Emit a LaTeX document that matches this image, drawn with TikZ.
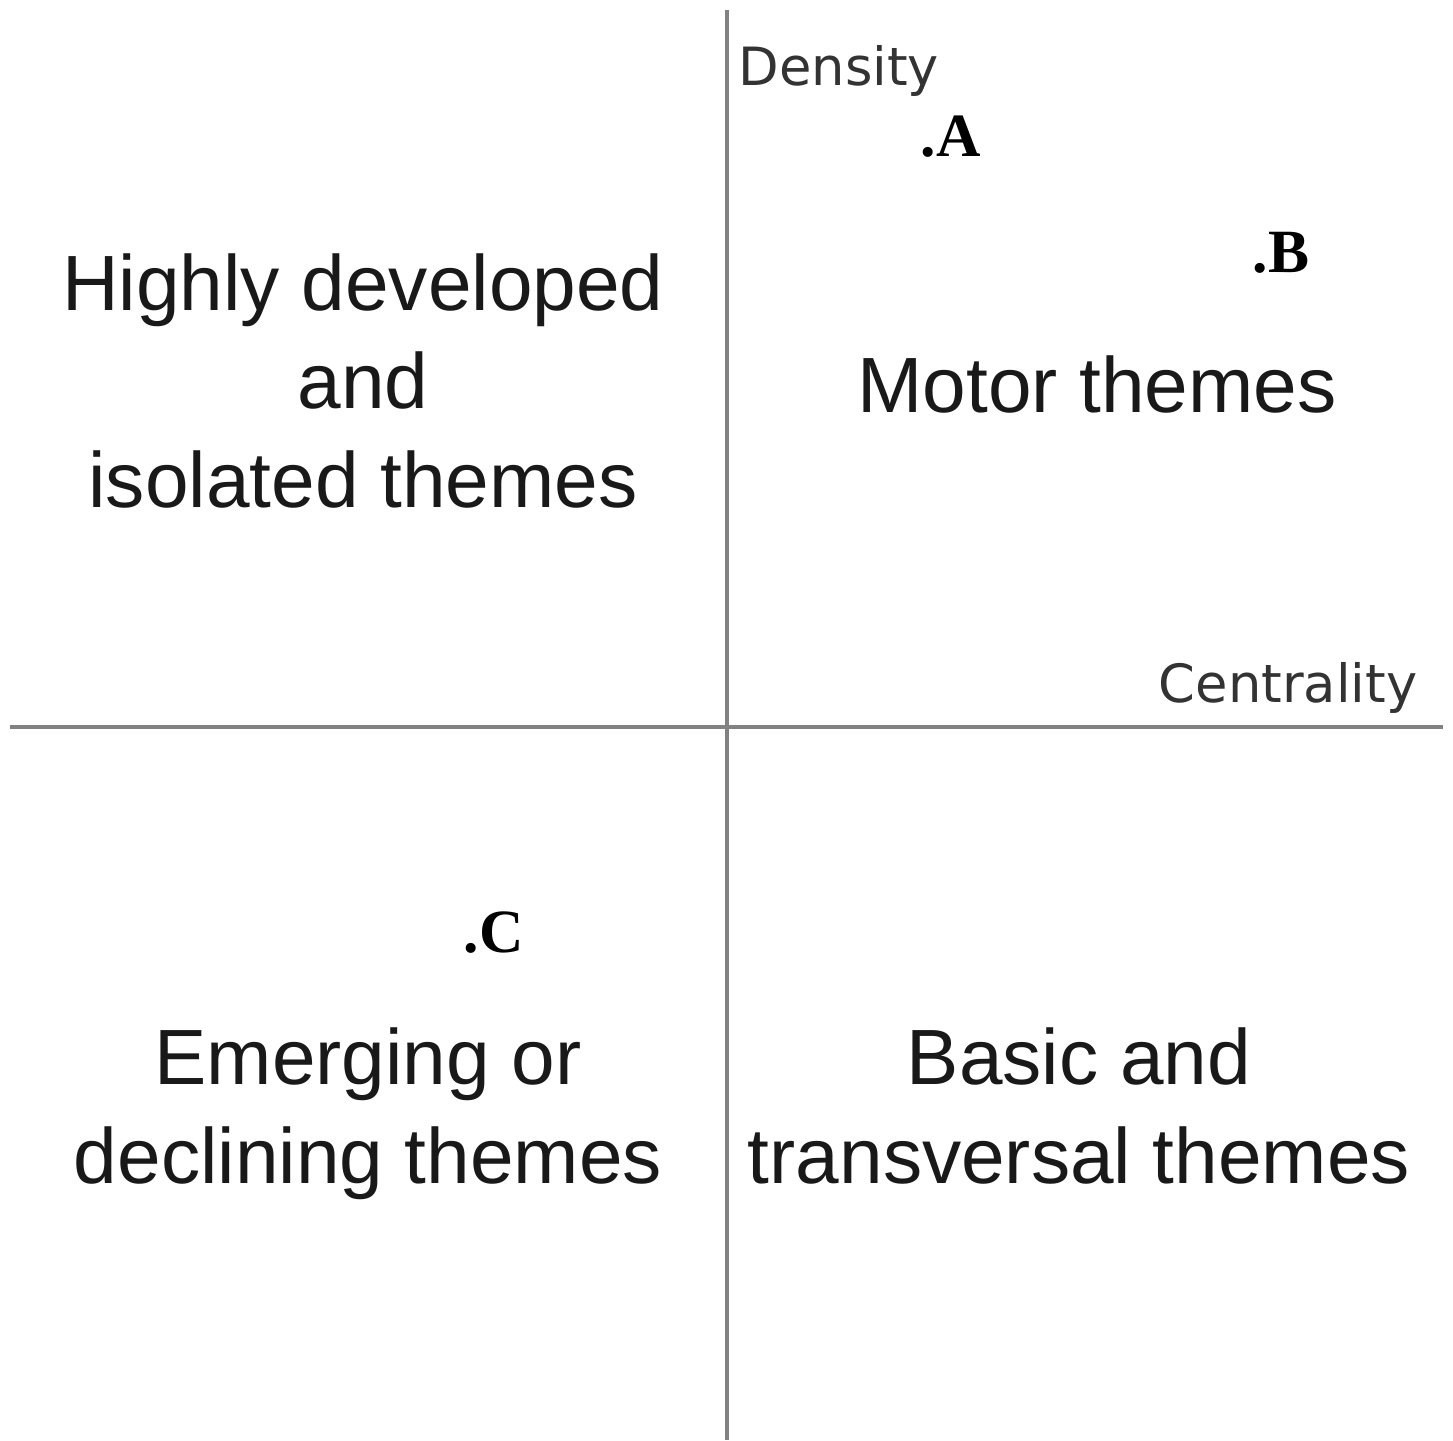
\documentclass[tikz,border=0pt]{standalone}
\usepackage{fontspec}
\setmainfont{Liberation Sans}
\newfontfamily\axisfont{DejaVu Sans}
\newfontfamily\pointfont{Liberation Serif}
\usetikzlibrary{positioning, calc}
\definecolor{axisgray}{RGB}{130,130,130}
\definecolor{textdark}{RGB}{25,25,25}
\tikzset{
  strategic/.style={
	axis/.style={draw=axisgray, line width=1.4pt}, % the two crossing axes
	theme/.style={align=center, inner sep=0pt, text=textdark,
		font=\fontsize{22.3}{27.9}\selectfont}, % caption of each quadrant (base = last line)
	axislabel/.style={inner sep=0pt, text=black!80,
		font=\axisfont\fontsize{15}{18}\selectfont}, % name of each axis
	point/.style={inner sep=0pt, font=\pointfont\bfseries\fontsize{17.5}{20}\selectfont}, % the plotted themes
  }
}

\begin{document}
\begin{tikzpicture}[strategic]
\useasboundingbox (-7.27,-7.13) rectangle (7.26,7.27);

% ends of the axes
\coordinate (west) at (-7.17,0);
\coordinate (east) at (7.16,0);
\coordinate (north) at (0,7.17);
\coordinate (south) at (0,-7.13);

\draw[axis] (west) -- (east);
\draw[axis] (north) -- (south);

\node[axislabel, anchor=base west] (density) at (0.11,6.41) {Density};
\node[axislabel, anchor=base east] (centrality) at (6.91,0.25) {Centrality};

\node[theme, anchor=base] (isolated) at (-3.64,2.20) {Highly developed\\and\\isolated themes};
\node[theme, anchor=base] (motor) at (3.70,3.15) {Motor themes};
\node[theme, anchor=base] (emerging) at (-3.59,-4.56) {Emerging or\\declining themes};
\node[theme, anchor=base] (basic) at (3.52,-4.56) {Basic and\\transversal themes};

\node[point, anchor=base west] (A) at (1.93,5.70) {.A};
\node[point, anchor=base west] (B) at (5.25,4.55) {.B};
\node[point, anchor=base west] (C) at (-2.64,-2.25) {.C};
\end{tikzpicture}
\end{document}
